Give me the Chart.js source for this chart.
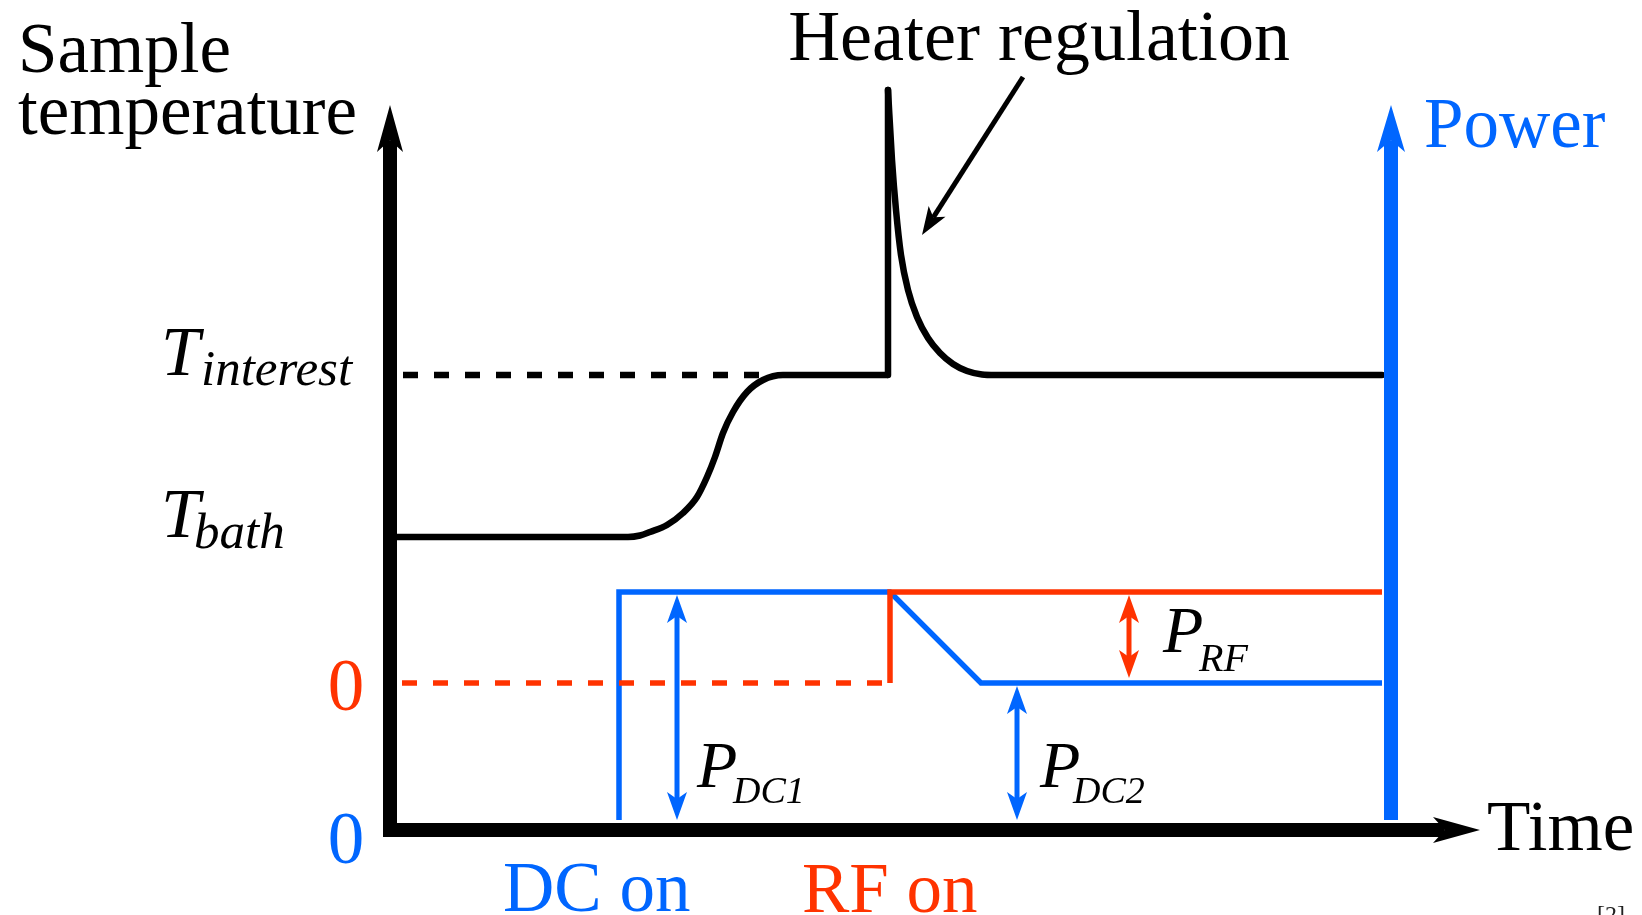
<!DOCTYPE html>
<html>
<head>
<meta charset="utf-8">
<script src="https://cdn.jsdelivr.net/npm/chart.js@4"></script>
<style>
  html, body { margin: 0; padding: 0; background: #fff; }
  #wrap { width: 1642px; height: 915px; position: relative; }
</style>
</head>
<body>
<div id="wrap"><canvas id="sketch"></canvas></div>
<script>
// schematic units: time 0..110, level 0..77
const sampleTemp = [
  {x: 0, y: 29.3}, {x: 21, y: 29.3}, {x: 23.8, y: 29.3}, {x: 25, y: 29.45}, {x: 26, y: 29.8},
  {x: 27.7, y: 30.5}, {x: 29.3, y: 31.7}, {x: 30.7, y: 33.3}, {x: 31.7, y: 35.3},
  {x: 32.5, y: 37.3}, {x: 33.3, y: 39.7}, {x: 34.3, y: 41.8}, {x: 35.7, y: 43.8},
  {x: 37.3, y: 45.0}, {x: 39.3, y: 45.5}, {x: 41, y: 45.5}, {x: 49.8, y: 45.5}
];
const heaterSpike = [{x: 49.8, y: 45.5}, {x: 49.8, y: 74}];
const heaterDecay = [
  {x: 49.8, y: 74}, {x: 50.2, y: 67}, {x: 50.6, y: 62}, {x: 51.1, y: 57.5},
  {x: 51.8, y: 54}, {x: 52.7, y: 51.3}, {x: 53.8, y: 49.2}, {x: 55.0, y: 47.7},
  {x: 56.3, y: 46.6}, {x: 57.7, y: 45.9}, {x: 59.2, y: 45.55}, {x: 60.5, y: 45.5},
  {x: 99.2, y: 45.5}
];
const interestLevel = [{x: 1.3, y: 45.5}, {x: 38, y: 45.5}];
const dcPower = [
  {x: 22.9, y: 1.0}, {x: 22.9, y: 23.8}, {x: 50, y: 23.8}, {x: 59.1, y: 14.7}, {x: 99.2, y: 14.7}
];
const rfPower = [{x: 50, y: 14.7}, {x: 50, y: 23.8}, {x: 99.2, y: 23.8}];
const rfZero = [{x: 1.2, y: 14.7}, {x: 50, y: 14.7}];

const BLACK = '#000000', BLUE = '#0066ff', RED = '#ff3300';

// axes and markers: [from, to]
const arrows = [
  {from: [0, -0.7], to: [0, 72.5], color: BLACK, width: 14, len: 47, half: 13},
  {from: [-0.7, 0], to: [109, 0], color: BLACK, width: 14, len: 47, half: 13},
  {from: [100.1, 1.0], to: [100.1, 72.5], color: BLUE, width: 14, len: 47, half: 14},
  {from: [63.3, 75.3], to: [53.2, 59.5], color: BLACK, width: 5, len: 28, half: 10},
  {from: [28.7, 23.5], to: [28.7, 1.0], color: BLUE, width: 5, len: 28, half: 10, both: true},
  {from: [62.7, 14.4], to: [62.7, 1.0], color: BLUE, width: 5, len: 28, half: 10, both: true},
  {from: [73.9, 23.5], to: [73.9, 15.2], color: RED, width: 5, len: 28, half: 10, both: true}
];

const labels = [
  {text: 'Sample', x: -37.2, y: 75.8, color: BLACK, size: 71},
  {text: 'temperature', x: -37.2, y: 69.6, color: BLACK, size: 71},
  {text: 'Heater regulation', x: 64.9, y: 77.0, color: BLACK, size: 72, align: 'center'},
  {text: 'Power', x: 103.4, y: 68.3, color: BLUE, size: 71},
  {text: 'Time', x: 109.7, y: -2.0, color: BLACK, size: 71},
  {text: 'DC on', x: 11.3, y: -8.1, color: BLUE, size: 71},
  {text: 'RF on', x: 41.2, y: -8.2, color: RED, size: 71},
  {text: '0', x: -4.4, y: 12.0, color: RED, size: 73, align: 'center'},
  {text: '0', x: -4.4, y: -3.3, color: BLUE, size: 73, align: 'center'},
  {text: 'T', x: -22.9, y: 45.5, color: BLACK, size: 70, italic: true},
  {text: 'interest', x: -18.9, y: 44.5, color: BLACK, size: 51, italic: true},
  {text: 'T', x: -22.9, y: 29.3, color: BLACK, size: 70, italic: true},
  {text: 'bath', x: -19.6, y: 28.2, color: BLACK, size: 51, italic: true},
  {text: 'P', x: 30.7, y: 4.3, color: BLACK, size: 66, italic: true},
  {text: 'DC1', x: 34.3, y: 2.7, color: BLACK, size: 38, italic: true},
  {text: 'P', x: 65.0, y: 4.3, color: BLACK, size: 66, italic: true},
  {text: 'DC2', x: 68.3, y: 2.7, color: BLACK, size: 38, italic: true},
  {text: 'P', x: 77.3, y: 17.8, color: BLACK, size: 66, italic: true},
  {text: 'RF', x: 80.9, y: 15.9, color: BLACK, size: 40, italic: true},
  {text: '[2]', x: 120.7, y: -9.2, color: '#222222', size: 24}
];

function head(c, tx, ty, ux, uy, len, half) {
  const nx = -uy, ny = ux;
  const bx = tx - ux * len, by = ty - uy * len;
  c.beginPath();
  c.moveTo(tx, ty);
  c.lineTo(bx + nx * half, by + ny * half);
  c.lineTo(tx - ux * len * 0.75, ty - uy * len * 0.75);
  c.lineTo(bx - nx * half, by - ny * half);
  c.closePath();
  c.fill();
}

const annotate = {
  id: 'annotate',
  afterDatasetsDraw(chart) {
    const c = chart.ctx, sx = chart.scales.x, sy = chart.scales.y;
    c.save();
    arrows.forEach(a => {
      const x1 = sx.getPixelForValue(a.from[0]), y1 = sy.getPixelForValue(a.from[1]);
      const x2 = sx.getPixelForValue(a.to[0]), y2 = sy.getPixelForValue(a.to[1]);
      const d = Math.hypot(x2 - x1, y2 - y1), ux = (x2 - x1) / d, uy = (y2 - y1) / d;
      const sx1 = a.both ? x1 + ux * a.len * 0.75 : x1, sy1 = a.both ? y1 + uy * a.len * 0.75 : y1;
      c.strokeStyle = a.color; c.fillStyle = a.color;
      c.lineWidth = a.width; c.lineCap = 'butt';
      c.beginPath();
      c.moveTo(sx1, sy1);
      c.lineTo(x2 - ux * a.len * 0.75, y2 - uy * a.len * 0.75);
      c.stroke();
      head(c, x2, y2, ux, uy, a.len, a.half);
      if (a.both) head(c, x1, y1, -ux, -uy, a.len, a.half);
    });
    c.textBaseline = 'alphabetic';
    labels.forEach(l => {
      c.font = (l.italic ? 'italic ' : '') + l.size + 'px "Liberation Serif", "Times New Roman", serif';
      c.fillStyle = l.color;
      c.textAlign = l.align || 'left';
      c.fillText(l.text, sx.getPixelForValue(l.x), sy.getPixelForValue(l.y));
    });
    c.restore();
  }
};

function series(data, color, width, extra) {
  return Object.assign({
    data: data, showLine: true, borderColor: color, borderWidth: width,
    pointRadius: 0, pointHoverRadius: 0, fill: false, clip: false,
    borderJoinStyle: 'miter', borderCapStyle: 'butt'
  }, extra || {});
}

new Chart(document.getElementById('sketch'), {
  type: 'scatter',
  data: {
    datasets: [
      series(interestLevel, BLACK, 6.5, {borderDash: [15, 16]}),
      series(rfZero, RED, 5.5, {borderDash: [15, 16]}),
      series(sampleTemp, BLACK, 6.5, {cubicInterpolationMode: 'monotone', borderJoinStyle: 'round'}),
      series(heaterSpike, BLACK, 6.5, {borderCapStyle: 'round'}),
      series(heaterDecay, BLACK, 6.5, {cubicInterpolationMode: 'monotone', borderJoinStyle: 'round', borderCapStyle: 'round'}),
      series(rfPower, RED, 5.5),
      series(dcPower, BLUE, 5.5)
    ]
  },
  options: {
    responsive: true,
    maintainAspectRatio: false,
    animation: false,
    layout: {padding: {left: 390, right: 152, top: 60, bottom: 85}},
    scales: {
      x: {type: 'linear', min: 0, max: 110, display: false},
      y: {type: 'linear', min: 0, max: 77, display: false}
    },
    plugins: {legend: {display: false}, tooltip: {enabled: false}}
  },
  plugins: [annotate]
});
</script>
</body>
</html>
